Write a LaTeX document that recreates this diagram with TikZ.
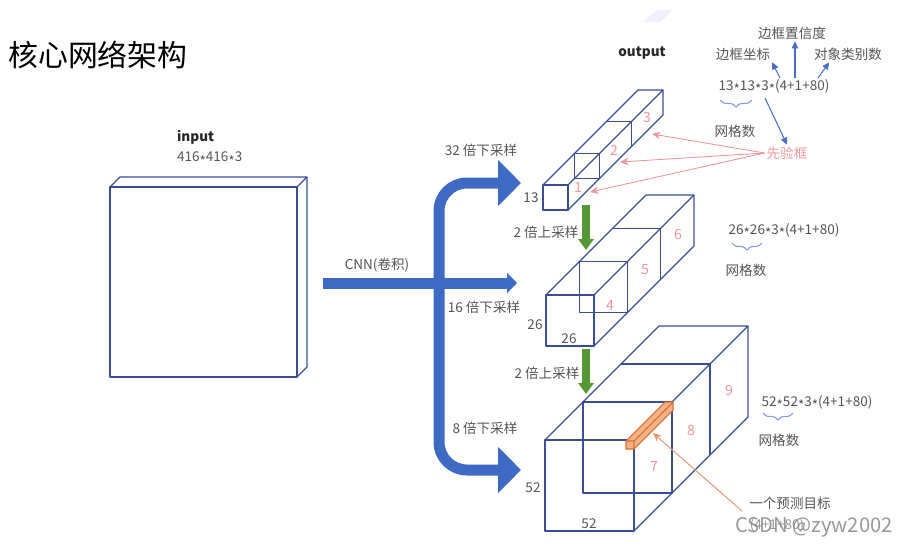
\documentclass[tikz,border=0pt]{standalone}
\usepackage{fontspec}
\newfontfamily\cjk{Noto Sans CJK SC}
\usetikzlibrary{arrows.meta, decorations.pathreplacing}
\definecolor{mapblue}{RGB}{58,78,150}
\definecolor{flowblue}{RGB}{62,106,195}
\definecolor{upgreen}{RGB}{86,152,52}
\definecolor{cellpink}{RGB}{240,150,160}
\definecolor{textgray}{RGB}{85,85,85}
\definecolor{annotblue}{RGB}{72,110,200}
\definecolor{barfill}{RGB}{244,177,131}
\definecolor{bardraw}{RGB}{215,110,50}
\tikzstyle{mapline} = [draw=mapblue, line width=0.75pt, line join=round]
\tikzstyle{maptext} = [text=textgray, inner sep=1pt,
font=\cjk\fontsize{7.7}{9}\selectfont]
\tikzstyle{headtext} = [text=black!85, inner sep=1pt,
font=\cjk\bfseries\fontsize{7.7}{9}\selectfont]
\tikzstyle{celltext} = [text=cellpink, inner sep=1pt,
font=\cjk\fontsize{8}{9}\selectfont]
\tikzstyle{bigarrow} = [draw=flowblue, line width=0.22cm, rounded corners=0.56cm,
-{Triangle[length=0.46cm,width=0.9cm]}]
\tikzstyle{upsample} = [draw=upgreen, line width=0.16cm,
-{Triangle[length=0.22cm,width=0.3cm]}]
\tikzstyle{annot} = [draw=annotblue, line width=0.6pt,
-{Triangle[length=0.14cm,width=0.13cm]}]
\tikzstyle{priorarrow} = [draw=cellpink, line width=0.5pt,
-{Stealth[length=0.17cm,width=0.15cm]}]
\tikzstyle{targetarrow} = [draw=bardraw!75, line width=0.5pt,
-{Stealth[length=0.17cm,width=0.15cm]}]
\tikzstyle{gridbrace} = [draw=annotblue!70, line width=0.6pt, decorate,
decoration={brace, mirror, amplitude=0.14cm}]

% lowered times sign
\newcommand{\tms}{\raisebox{-0.6ex}{*}}

% front corner x, y, width, height, depth
\newcommand{\featmap}[5]{%
\begin{scope}[shift={(#1,#2)}]
\draw[mapline] (0,0) rectangle (#3,#4);
\draw[mapline] (0,0) -- (#5,-#5) -- (#5+#3,-#5) -- (#3,0);
\draw[mapline] (#3,#4) -- (#5+#3,#4-#5) -- (#5+#3,-#5);
\draw[mapline] (#5/3,-#5/3) rectangle ++(#3,#4);
\draw[mapline] (2*#5/3,-2*#5/3) -- ++(#3,0) -- ++(0,#4);
\end{scope}}

\begin{document}
\begin{tikzpicture}[x=0.02cm, y=-0.02cm]
\useasboundingbox (0,0) rectangle (904,548);

\fill[blue!6] (643,22) -- (657,10) -- (673,10) -- (660,22) -- cycle;
\node[anchor=west, inner sep=0, font=\cjk\fontsize{17}{20}\selectfont] (title) at (8,55) {核心网络架构};

% input image
\draw[mapline] (110,187) rectangle (297,377);
\draw[mapline] (110,187) -- (120,177) -- (307,177) -- (297,187);
\draw[mapline] (307,177) -- (307,367) -- (297,377);
\node[headtext, anchor=west] (input) at (175,137) {input};
\node[maptext, anchor=west] (insize) at (175,159) {416\tms416\tms3};

% three output maps
\featmap{543}{185}{25}{25}{95}
\featmap{546}{295}{48}{51}{100}
\featmap{545}{440}{89}{91}{114}

% one predicted target
\filldraw[fill=barfill, draw=bardraw, line width=0.6pt, line join=round]
(626,441) -- (665,402) -- (673,402) -- (673,410) -- (634,449) -- (626,449) -- cycle;
\draw[bardraw, line width=0.6pt, line join=round] (626,441) -- (634,441) -- (673,402) (634,441) -- (634,449);

% backbone and branches
\coordinate (cnnin) at (323,283);
\coordinate (split) at (439,283);
\coordinate (to13) at (521,183);
\coordinate (to26) at (517,283);
\coordinate (to52) at (521,470);
\draw[bigarrow] (split) |- (to13);
\draw[bigarrow] (split) |- (to52);
\draw[bigarrow, -{Triangle[length=0.2cm,width=0.4cm]}] (cnnin) -- (to26);

\coordinate (bot13) at (586,205);
\coordinate (top26) at (586,250);
\coordinate (bot26) at (586,349);
\coordinate (top52) at (586,394);
\draw[upsample] (bot13) -- (top26);
\draw[upsample] (bot26) -- (top52);

\node[maptext] (cnn) at (377,265) {CNN(卷积)};
\node[maptext] (down32) at (481,150) {32 倍下采样};
\node[maptext] (down16) at (484,307) {16 倍下采样};
\node[maptext] (down8) at (485,428) {8 倍下采样};
\node[maptext] (up1) at (546,232) {2 倍上采样};
\node[maptext] (up2) at (547,373) {2 倍上采样};
\node[headtext] (output) at (642,53) {output};

\node[maptext] (side13) at (531,198) {13};
\node[maptext] (side26) at (535,325) {26};
\node[maptext] (base26) at (569,339) {26};
\node[maptext] (side52) at (533,488) {52};
\node[maptext] (base52) at (589,524) {52};

\node[celltext] (cell1) at (578,187) {1};
\node[celltext] (cell2) at (614,150) {2};
\node[celltext] (cell3) at (647,117) {3};
\node[celltext] (cell4) at (610,305) {4};
\node[celltext] (cell5) at (645,270) {5};
\node[celltext] (cell6) at (678,234) {6};
\node[celltext] (cell7) at (654,466) {7};
\node[celltext] (cell8) at (691,430) {8};
\node[celltext] (cell9) at (729,390) {9};

% 13x13 output
\node[maptext] (conf) at (792,33) {边框置信度};
\node[maptext] (coord) at (743,54) {边框坐标};
\node[maptext] (cls) at (848,54) {对象类别数};
\node[maptext] (shape13) at (774,87) {13\tms13\tms3\tms(4+1+80)};
\draw[gridbrace] (720,100) -- (752,100);
\node[maptext] (grid13) at (735,131) {网格数};
\node[maptext, text=cellpink] (prior) at (787,153) {先验框};

\coordinate (boxpart) at (780,78);
\coordinate (confpart) at (795,78);
\coordinate (clspart) at (818,78);
\coordinate (anchorpart) at (765,98);
\draw[annot] (boxpart) -- (coord.south east);
\draw[annot] (confpart) -- (conf.south -| confpart);
\draw[annot] (clspart) -- (cls.204);
\draw[annot] (anchorpart) -- (prior.north);

\coordinate (in1) at (590,192);
\coordinate (in2) at (620,162);
\coordinate (in3) at (652,134);
\draw[priorarrow] (prior.west) -- (in1);
\draw[priorarrow] (prior.west) -- (in2);
\draw[priorarrow] (prior.west) -- (in3);

% 26x26 output
\node[maptext] (shape26) at (784,231) {26\tms26\tms3\tms(4+1+80)};
\draw[gridbrace] (732,243) -- (762,243);
\node[maptext] (grid26) at (746,270) {网格数};

% 52x52 output
\node[maptext] (shape52) at (817,403) {52\tms52\tms3\tms(4+1+80)};
\draw[gridbrace] (763,413) -- (793,413);
\node[maptext] (grid52) at (779,440) {网格数};

\node[maptext] (target) at (790,503) {一个预测目标};
\node[maptext, text=textgray!60] (targetsize) at (777,525) {(4+1+80)};
\coordinate (barend) at (653,433);
\draw[targetarrow] ([xshift=-0.1cm]target.south west) -- (barend);

\node[font=\cjk\fontsize{11.5}{13}\selectfont, text=gray, opacity=0.8] (mark) at (814,527) {CSDN @zyw2002};

\end{tikzpicture}
\end{document}
